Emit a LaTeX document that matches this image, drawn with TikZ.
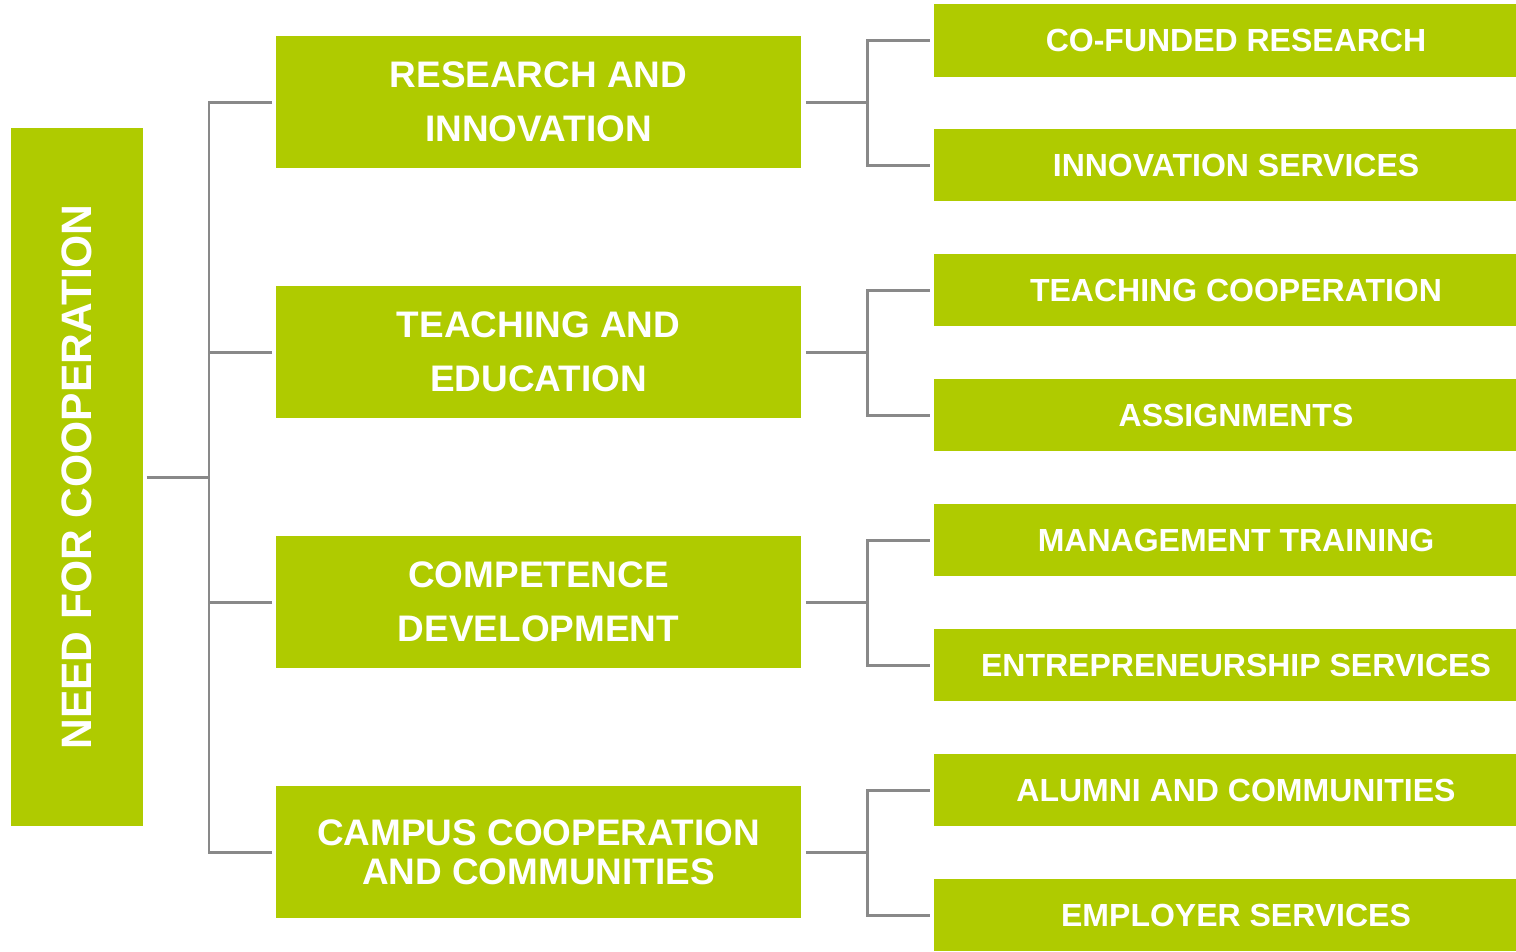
\documentclass[tikz,border=0pt]{standalone}
\usepackage{fontspec}
\setmainfont{Liberation Sans}
\usetikzlibrary{positioning}
\definecolor{vertLime}{RGB}{175,203,0}
\definecolor{grisTrait}{RGB}{137,137,137}

\begin{document}
\begin{tikzpicture}[x=0.01cm, y=-0.01cm,
    boite/.style={fill=vertLime, text=white, inner sep=0pt, align=center},
    boiteGauche/.style={boite, rotate=90, minimum width=6.98cm, minimum height=1.32cm,
        font=\fontsize{12.1}{15}\selectfont\bfseries},
    boiteMilieu/.style={boite, minimum width=5.25cm, minimum height=1.32cm,
        font=\fontsize{10.5}{15.4}\selectfont\bfseries},
    boiteDroite/.style={boite, minimum width=6.04cm, minimum height=0.72cm,
        font=\fontsize{9.1}{11}\selectfont\bfseries},
    trait/.style={draw=grisTrait, line width=0.85pt}]
    % Cadre
    \useasboundingbox (0,0) rectangle (1516,951);
    \clip (0,0) rectangle (1516,951);

    % Paramètres
    \def\xTroncA{209}   % tronc de gauche
    \def\xTroncB{867}   % troncs de droite
    \def\ecart{0.03cm}  % jeu entre trait et boite

    % Boite de gauche
    \node[boiteGauche] (besoin) at (77, 477) {NEED FOR COOPERATION};

    % Boites du milieu
    \node[boiteMilieu] (recherche) at (538.5, 102) {RESEARCH AND\\INNOVATION};
    \node[boiteMilieu] (enseignement) at (538.5, 352) {TEACHING AND\\EDUCATION};
    \node[boiteMilieu] (competence) at (538.5, 602) {COMPETENCE\\DEVELOPMENT};
    \node[boiteMilieu, font=\fontsize{10.5}{11.1}\selectfont\bfseries] (campus) at (538.5, 852)
        {CAMPUS COOPERATION\\AND COMMUNITIES};

    % Boites de droite
    \node[boiteDroite] (cofinance) at (1236, 40.5) {CO-FUNDED RESEARCH};
    \node[boiteDroite] (innovation) at (1236, 165) {INNOVATION SERVICES};
    \node[boiteDroite] (cooperation) at (1236, 290) {TEACHING COOPERATION};
    \node[boiteDroite] (missions) at (1236, 415) {ASSIGNMENTS};
    \node[boiteDroite] (gestion) at (1236, 540) {MANAGEMENT TRAINING};
    \node[boiteDroite] (entreprise) at (1236, 665) {ENTREPRENEURSHIP SERVICES};
    \node[boiteDroite] (anciens) at (1236, 790) {ALUMNI AND COMMUNITIES};
    \node[boiteDroite] (employeur) at (1236, 915) {EMPLOYER SERVICES};

    % Tronc de gauche
    \coordinate (troncA) at (\xTroncA, 477);
    \draw[trait, shorten <=\ecart] (besoin.south) -- (troncA);
    \draw[trait, shorten >=\ecart] (troncA) |- (recherche.west);
    \draw[trait, shorten >=\ecart] (troncA) |- (enseignement.west);
    \draw[trait, shorten >=\ecart] (troncA) |- (competence.west);
    \draw[trait, shorten >=\ecart] (troncA) |- (campus.west);

    % Recherche
    \coordinate (troncR) at (\xTroncB, 102);
    \draw[trait, shorten <=0.04cm] (recherche.east) -- (troncR);
    \draw[trait, shorten >=\ecart] (troncR) |- (cofinance.west);
    \draw[trait, shorten >=\ecart] (troncR) |- (innovation.west);

    % Enseignement
    \coordinate (troncE) at (\xTroncB, 352);
    \draw[trait, shorten <=0.04cm] (enseignement.east) -- (troncE);
    \draw[trait, shorten >=\ecart] (troncE) |- (cooperation.west);
    \draw[trait, shorten >=\ecart] (troncE) |- (missions.west);

    % Competences
    \coordinate (troncC) at (\xTroncB, 602);
    \draw[trait, shorten <=0.04cm] (competence.east) -- (troncC);
    \draw[trait, shorten >=\ecart] (troncC) |- (gestion.west);
    \draw[trait, shorten >=\ecart] (troncC) |- (entreprise.west);

    % Campus
    \coordinate (troncP) at (\xTroncB, 852);
    \draw[trait, shorten <=0.04cm] (campus.east) -- (troncP);
    \draw[trait, shorten >=\ecart] (troncP) |- (anciens.west);
    \draw[trait, shorten >=\ecart] (troncP) |- (employeur.west);
\end{tikzpicture}
\end{document}
